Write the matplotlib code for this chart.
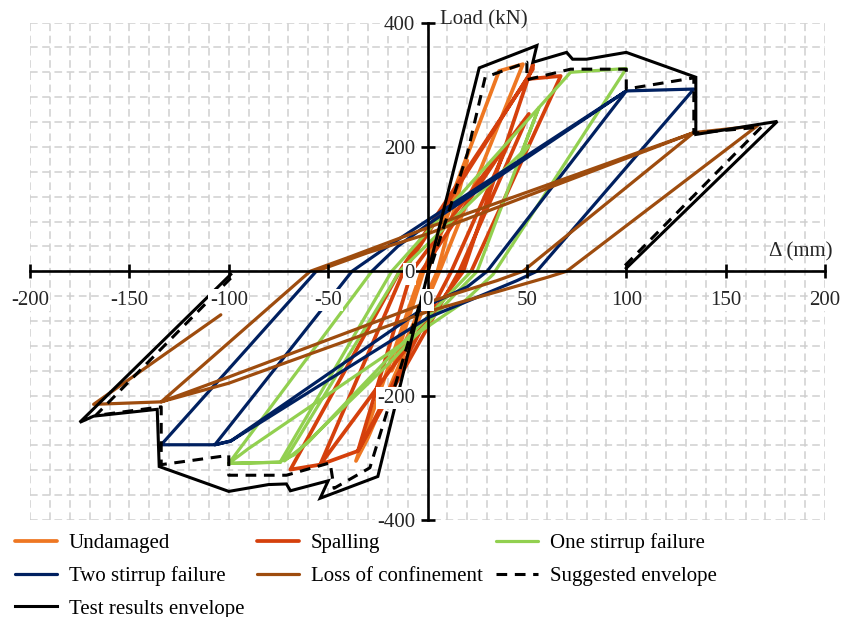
import matplotlib
matplotlib.use("Agg")
import matplotlib.pyplot as plt
import numpy as np

plt.rcParams['font.family'] = ['Liberation Serif', 'DejaVu Serif']
plt.rcParams['axes.unicode_minus'] = False

# displacement (mm) / load (kN) paths for each damage stage
undamaged_x = [0, 20, 5, -18, -2, 36, 48, 6, -30, -36, -3]
undamaged_y = [0, 178, 0, -160, 0, 322, 333, 0, -268, -305, 0]

spalling_x = [-3, 42, 12, -35, -8, 51, 16, -35, -54, -12, 53, 53, 18, -54, -69, -14, 50, 67, 22]
spalling_y = [0, 215, 0, -289, 0, 253, 0, -289, -311, 0, 325, 333, 0, -311, -319, 0, 309, 314, 0]

one_stirrup_x = [22, -60, -72, -14, 51, 46, 56, 25, -20, -67, -74, -18, 72, 100, 33, 18, -90, -100, -74, -100, -28]
one_stirrup_y = [0, -275, -305, 0, 202, 180, 263, 0, -150, -295, -306, 0, 320, 326, -5, -50, -285, -309, -307, -309, 0]

two_stirrup_x = [-28, -15, 0, 100, 30, 20, 0, -99, -107, -38, -20, 0, 100, 134, 55, 45, 0, -99, -107, -134, -56]
two_stirrup_y = [0, 40, 75, 290, 0, -25, -55, -273, -279, 0, 40, 82, 290, 293, 0, -15, -75, -273, -279, -279, 0]

loss_conf_x = [-56, -30, 0, 134, 48, 35, 0, -100, -134, -59, -40, 0, 134, 166, 70, 60, 0, -100, -134, -168, -104]
loss_conf_y = [0, 30, 60, 223, 0, -15, -50, -170, -210, 0, 22, 70, 223, 234, 0, -10, -65, -180, -210, -214, -70]

suggested_x = [-99, -167, -134, -134, -100, -100, -71, -49, -47, -29, -11, 0, 20, 29, 50, 50, 72, 100, 100, 134, 134, 168, 99]
suggested_y = [-11, -232, -218, -311, -296, -328, -328, -308, -349, -316, -128, -10, 189, 312, 336, 308, 325, 325, 293, 311, 222, 232, 8]

test_x = [-99, -175, -168, -136, -135, -100, -80, -71, -69, -50, -54, -25, 0, 26, 55, 53, 70, 73, 80, 100, 135, 135, 176, 100]
test_y = [-5, -243, -233, -222, -314, -354, -343, -342, -353, -337, -365, -330, -5, 327, 363, 336, 352, 341, 341, 352, 312, 220, 241, 5]

x_ticks = [-200, -150, -100, -50, 0, 50, 100, 150, 200]
y_ticks = [-400, -200, 0, 200, 400]

fig = plt.figure(figsize=(8.41, 6.17), dpi=100)
ax = fig.add_axes([0.0357, 0.1572, 0.9453, 0.8063])
ax.set_xlim(-200, 200)
ax.set_ylim(-400, 400)

# dashed grid, drawn under everything
grid_kw = dict(colors='#cfcfcf', linewidth=1.1, linestyles=(0, (5, 3)), zorder=0.5)
ax.vlines(np.arange(-200, 201, 10), -400, 400, **grid_kw)
ax.hlines(np.arange(-400, 401, 40), -200, 200, **grid_kw)

thick = dict(linewidth=2.7, solid_capstyle='round', solid_joinstyle='round')
thin = dict(linewidth=2.3, solid_capstyle='round', solid_joinstyle='round')
l1, = ax.plot(undamaged_x, undamaged_y, color='#ee7722', label='Undamaged', **thick)
l2, = ax.plot(spalling_x, spalling_y, color='#d5400c', label='Spalling', **thick)
l3, = ax.plot(one_stirrup_x, one_stirrup_y, color='#92d050', label='One stirrup failure', **thin)
l4, = ax.plot(two_stirrup_x, two_stirrup_y, color='#002060', label='Two stirrup failure', **thin)
l5, = ax.plot(loss_conf_x, loss_conf_y, color='#9e4c0e', label='Loss of confinement', **thin)
l6, = ax.plot(suggested_x, suggested_y, color='black', linewidth=2.2, linestyle=(0, (3.5, 2.5)),
              label='Suggested envelope')
l7, = ax.plot(test_x, test_y, color='black', linewidth=2.2, solid_joinstyle='miter',
              label='Test results envelope')

# axes crossing at the origin
ax.set_axisbelow(False)
for side in ['top', 'right']:
    ax.spines[side].set_visible(False)
for side in ['left', 'bottom']:
    ax.spines[side].set_position(('data', 0))
    ax.spines[side].set_linewidth(1.9)
ax.tick_params(direction='inout', length=10, width=1.9, pad=4, labelsize=15, labelcolor='#262626')
ax.tick_params(axis='x', pad=9)

label_box = dict(facecolor='white', edgecolor='none', pad=1)
ax.set_xticks(x_ticks)
ax.set_xticklabels([str(v) for v in x_ticks], bbox=label_box)
ax.set_yticks(y_ticks)
ax.set_yticklabels([str(v) for v in y_ticks], bbox=label_box)

ax.text(6.5, 405, 'Load (kN)', fontsize=15, color='#262626', va='center', ha='left', clip_on=False)
ax.text(172, 32, 'Δ (mm)', fontsize=15, color='#262626', va='center', ha='left', clip_on=False)

handles = [l1, l4, l7, l2, l5, l3, l6]
fig.legend(handles, [h.get_label() for h in handles], ncol=3, loc='upper left',
           bbox_to_anchor=(0.0178, 0.1355), frameon=False, fontsize=15,
           handlelength=2.0, handletextpad=0.58, columnspacing=0.63,
           labelspacing=0.62, borderpad=0, borderaxespad=0)

fig.savefig('out.png', dpi=100)
